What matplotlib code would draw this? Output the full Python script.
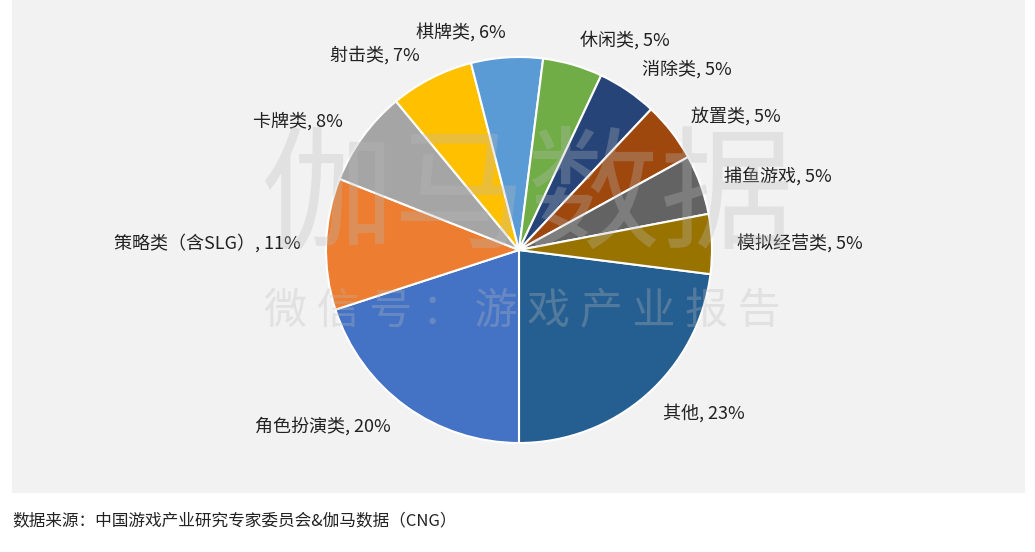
import matplotlib
matplotlib.use("Agg")
import matplotlib.pyplot as plt
from matplotlib.patches import Rectangle

plt.rcParams['font.family'] = ['Noto Sans CJK SC', 'DejaVu Sans']

categories = ['其他', '角色扮演类', '策略类（含SLG）', '卡牌类', '射击类', '棋牌类',
              '休闲类', '消除类', '放置类', '捕鱼游戏', '模拟经营类']
values = [23, 20, 11, 8, 7, 6, 5, 5, 5, 5, 5]
colors = ['#255E91', '#4472C4', '#ED7D31', '#A5A5A5', '#FFC000', '#5B9BD5',
          '#70AD47', '#264478', '#9E480E', '#636363', '#997300']

W, H = 1035, 552
fig = plt.figure(figsize=(W/100, H/100), dpi=100)
fig.patch.set_facecolor('white')
fig.patches.append(Rectangle((12/W, (H-493)/H), (1025-12)/W, 493/H,
                             transform=fig.transFigure, facecolor='#F2F2F2',
                             edgecolor='none', zorder=-1))

cx, cy, r = 519, 250, 193
ax = fig.add_axes([(cx-r)/W, (H-cy-r)/H, 2*r/W, 2*r/H])
ax.set_facecolor('none')
ax.set_zorder(2)
labels = [f'{c}, {v}%' for c, v in zip(categories, values)]
start = -90 + values[0] / sum(values) * 360
wedges, texts = ax.pie(values, colors=colors, labels=labels, startangle=start,
                       counterclock=False, labeldistance=1.13,
                       wedgeprops=dict(edgecolor='white', linewidth=1.5),
                       textprops=dict(fontsize=13, color='#222222'))
for t in texts:
    t.set_clip_on(False)
ax.set_xlim(-1, 1)
ax.set_ylim(-1, 1)
ax.set_aspect('equal')

# watermark on top, semi-transparent
fig.text(527/W, 1-200/H, '伽马数据', fontsize=96, color='#BBBBBB', alpha=0.3,
         ha='center', va='center', zorder=5)
fig.text(522/W, 1-312/H, '微 信 号 ： 游 戏 产 业 报 告', fontsize=31, color='#BBBBBB',
         alpha=0.3, ha='center', va='center', zorder=5)

fig.text(12/W, 1-521/H, '数据来源：中国游戏产业研究专家委员会&伽马数据（CNG）',
         fontsize=12, color='#222222', ha='left', va='center')

fig.savefig('out.png', dpi=100)
